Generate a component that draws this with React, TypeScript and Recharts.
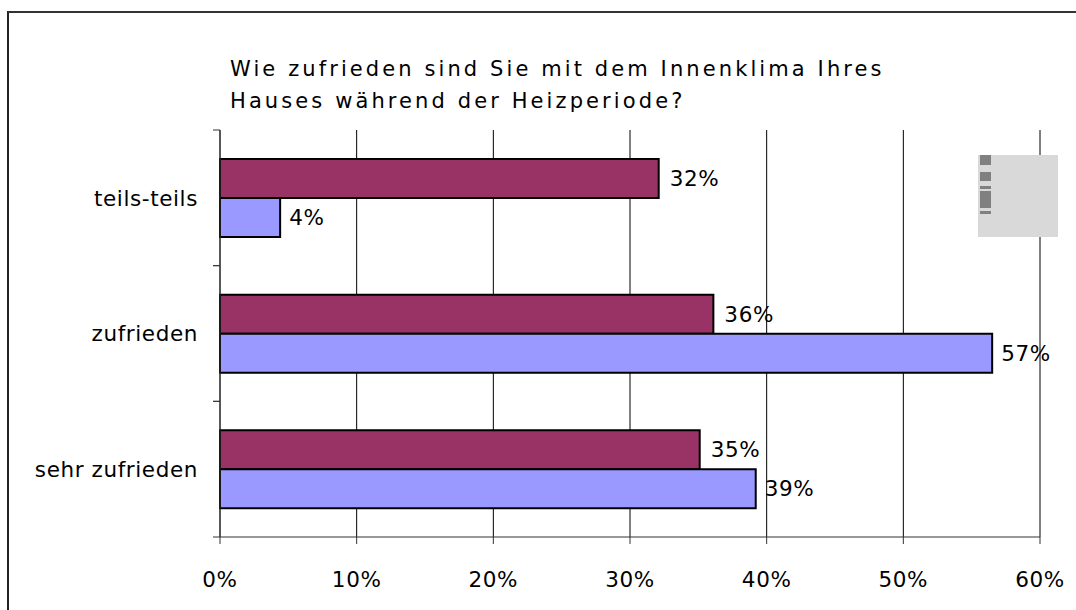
import React from 'react';
import {
  BarChart, Bar, XAxis, YAxis, CartesianGrid, LabelList,
} from 'recharts';

const categories = ['teils-teils', 'zufrieden', 'sehr zufrieden'];
const seriesA = [32.1, 36.1, 35.1]; // maroon
const seriesB = [4.4, 56.5, 39.2]; // blue
const xTicks = [0, 10, 20, 30, 40, 50, 60];

const data = categories.map((c, i) => ({ category: c, a: seriesA[i], b: seriesB[i] }));

const FONT = '"DejaVu Sans", Verdana, sans-serif';
const BAND = (610 - 130 - 73) / categories.length;
const FS = 21.5;
const SPACING = 0.6;

const CategoryTick = (props: any) => {
  const { x, y, payload } = props;
  return (
    <g>
      <line x1={x - 7} x2={x} y1={y - BAND / 2} y2={y - BAND / 2} stroke="#333" />
      <line x1={x - 7} x2={x} y1={y + BAND / 2} y2={y + BAND / 2} stroke="#333" />
      <text x={x - 22} y={y} dy="0.36em" textAnchor="end" fontSize={FS} letterSpacing={SPACING} fontFamily={FONT} fill="#000">
        {payload.value}
      </text>
    </g>
  );
};

const PercentTick = (props: any) => {
  const { x, y, payload } = props;
  return (
    <text x={x} y={y} dy="0.71em" textAnchor="middle" fontSize={FS} letterSpacing={SPACING} fontFamily={FONT} fill="#000">
      {`${payload.value}%`}
    </text>
  );
};

// legend box (its text is not legible in the source, only the swatches)
const LegendBox = () => (
  <div style={{ position: 'absolute', left: 978, top: 155, width: 80, height: 82, background: '#d9d9d9' }}>
    <div style={{ position: 'absolute', left: 2, top: 0, width: 11, height: 10, background: '#808080' }} />
    <div style={{ position: 'absolute', left: 2, top: 17, width: 11, height: 9, background: '#808080' }} />
    <div style={{ position: 'absolute', left: 2, top: 31, width: 11, height: 3, background: '#808080' }} />
    <div style={{ position: 'absolute', left: 2, top: 36, width: 11, height: 17, background: '#808080' }} />
    <div style={{ position: 'absolute', left: 2, top: 56, width: 11, height: 3, background: '#808080' }} />
  </div>
);

const pct = (v: any) => `${Math.round(Number(v))}%`;

export default function App() {
  return (
    <div style={{ position: 'absolute', left: 0, top: 0, width: 1076, height: 610, background: '#fff', overflow: 'hidden' }}>
      <div style={{ position: 'absolute', left: 7, top: 11, width: 1100, height: 700, borderLeft: '2px solid #222', borderTop: '2px solid #333' }} />
      <div style={{ position: 'absolute', left: 230, top: 53, fontFamily: FONT, fontSize: 21, lineHeight: '32px', letterSpacing: 3.1, color: '#000', whiteSpace: 'nowrap' }}>
        Wie zufrieden sind Sie mit dem Innenklima Ihres<br />Hauses während der Heizperiode?
      </div>
      <div style={{ position: 'absolute', left: 0, top: 0 }}>
        <BarChart
          width={1076}
          height={610}
          data={data}
          layout="vertical"
          margin={{ top: 130, right: 36, bottom: 13, left: 20 }}
          barSize={39}
          barGap={0}
        >
          <CartesianGrid horizontal={false} stroke="#000" strokeWidth={1} />
          <XAxis
            type="number"
            domain={[0, 60]}
            ticks={xTicks}
            height={60}
            tickSize={7}
            tickMargin={28}
            stroke="#333"
            tick={<PercentTick />}
          />
          <YAxis
            type="category"
            dataKey="category"
            width={200}
            tickLine={false}
            tickSize={0}
            tickMargin={0}
            stroke="#333"
            tick={<CategoryTick />}
          />
          <Bar dataKey="a" fill="#993366" stroke="#000" strokeWidth={2} isAnimationActive={false}>
            <LabelList dataKey="a" position="right" offset={11} formatter={pct} fill="#000" fontSize={FS} letterSpacing={SPACING} fontFamily={FONT} />
          </Bar>
          <Bar dataKey="b" fill="#9999ff" stroke="#000" strokeWidth={2} isAnimationActive={false}>
            <LabelList dataKey="b" position="right" offset={9} formatter={pct} fill="#000" fontSize={FS} letterSpacing={SPACING} fontFamily={FONT} />
          </Bar>
        </BarChart>
      </div>
      <LegendBox />
    </div>
  );
}
